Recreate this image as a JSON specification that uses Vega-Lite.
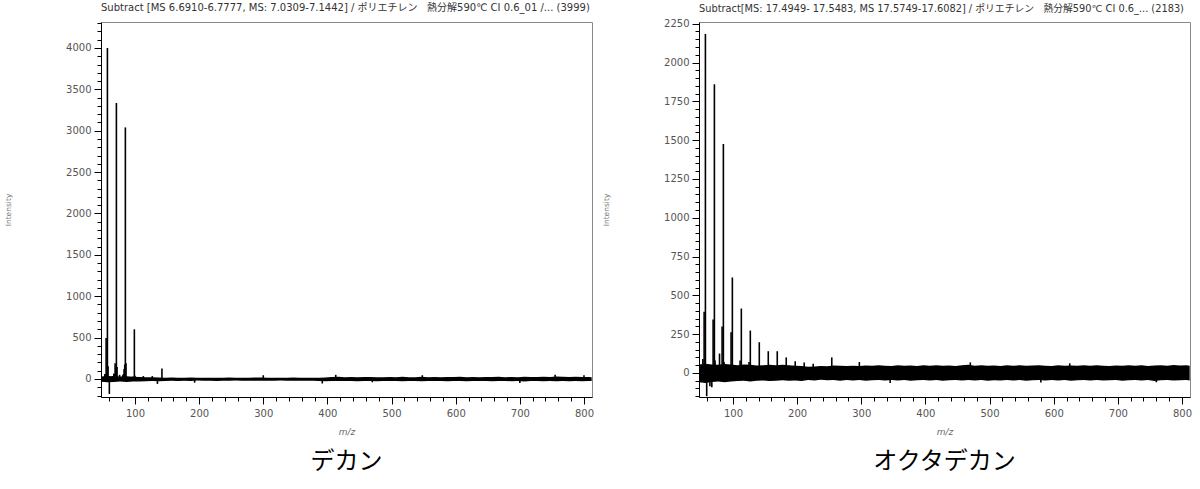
{
  "$schema": "https://vega.github.io/schema/vega-lite/v6.json",
  "background": "white",
  "padding": {"left": 4, "top": 2, "right": 0, "bottom": 0},
  "config": {
    "view": {"stroke": "#888"},
    "font": "DejaVu Sans",
    "axis": {
      "labelFont": "DejaVu Sans",
      "titleFont": "DejaVu Sans",
      "labelFontSize": 10,
      "labelColor": "#555",
      "titleColor": "#666",
      "titleFontWeight": "normal",
      "domainColor": "black",
      "tickColor": "black",
      "grid": false,
      "labelOverlap": false,
      "labelFlush": false,
      "tickCount": 200
    }
  },
  "datasets": {
    "decane_noise": [
      {"mz":47,"lo":-35,"hi":30},{"mz":57,"lo":-40,"hi":35},{"mz":67,"lo":-36,"hi":32},{"mz":77,"lo":-32,"hi":30},{"mz":87,"lo":-36,"hi":33},{"mz":97,"lo":-32,"hi":28},{"mz":107,"lo":-30,"hi":25},{"mz":117,"lo":-28,"hi":22},{"mz":127,"lo":-25,"hi":20},{"mz":137,"lo":-28,"hi":18},{"mz":147,"lo":-24,"hi":16},{"mz":157,"lo":-22,"hi":18},{"mz":167,"lo":-24,"hi":15},{"mz":177,"lo":-22,"hi":16},{"mz":187,"lo":-24,"hi":18},{"mz":197,"lo":-20,"hi":15},{"mz":207,"lo":-22,"hi":16},{"mz":217,"lo":-21,"hi":15},{"mz":227,"lo":-24,"hi":16},{"mz":237,"lo":-22,"hi":14},{"mz":247,"lo":-22,"hi":18},{"mz":257,"lo":-20,"hi":15},{"mz":267,"lo":-22,"hi":16},{"mz":277,"lo":-21,"hi":15},{"mz":287,"lo":-23,"hi":17},{"mz":297,"lo":-22,"hi":19},{"mz":307,"lo":-21,"hi":15},{"mz":317,"lo":-22,"hi":16},{"mz":327,"lo":-20,"hi":14},{"mz":337,"lo":-22,"hi":15},{"mz":347,"lo":-22,"hi":17},{"mz":357,"lo":-21,"hi":15},{"mz":367,"lo":-23,"hi":16},{"mz":377,"lo":-22,"hi":15},{"mz":387,"lo":-26,"hi":16},{"mz":397,"lo":-28,"hi":19},{"mz":407,"lo":-26,"hi":24},{"mz":417,"lo":-24,"hi":28},{"mz":427,"lo":-26,"hi":22},{"mz":437,"lo":-25,"hi":24},{"mz":447,"lo":-27,"hi":22},{"mz":457,"lo":-24,"hi":23},{"mz":467,"lo":-26,"hi":25},{"mz":477,"lo":-28,"hi":22},{"mz":487,"lo":-24,"hi":21},{"mz":497,"lo":-26,"hi":24},{"mz":507,"lo":-25,"hi":22},{"mz":517,"lo":-27,"hi":26},{"mz":527,"lo":-24,"hi":22},{"mz":537,"lo":-26,"hi":21},{"mz":547,"lo":-28,"hi":26},{"mz":557,"lo":-25,"hi":22},{"mz":567,"lo":-26,"hi":24},{"mz":577,"lo":-24,"hi":22},{"mz":587,"lo":-29,"hi":25},{"mz":597,"lo":-26,"hi":23},{"mz":607,"lo":-24,"hi":26},{"mz":617,"lo":-27,"hi":22},{"mz":627,"lo":-25,"hi":24},{"mz":637,"lo":-26,"hi":21},{"mz":647,"lo":-24,"hi":25},{"mz":657,"lo":-28,"hi":23},{"mz":667,"lo":-26,"hi":26},{"mz":677,"lo":-24,"hi":22},{"mz":687,"lo":-27,"hi":24},{"mz":697,"lo":-25,"hi":22},{"mz":707,"lo":-30,"hi":26},{"mz":717,"lo":-26,"hi":24},{"mz":727,"lo":-24,"hi":23},{"mz":737,"lo":-29,"hi":28},{"mz":747,"lo":-26,"hi":24},{"mz":757,"lo":-28,"hi":29},{"mz":767,"lo":-25,"hi":26},{"mz":777,"lo":-27,"hi":23},{"mz":787,"lo":-26,"hi":28},{"mz":797,"lo":-29,"hi":25},{"mz":807,"lo":-26,"hi":24},{"mz":812,"lo":-24,"hi":22}
    ],
    "decane_peaks": [
      {"mz":51,"intensity":25},{"mz":53,"intensity":60},{"mz":54,"intensity":45},{"mz":55,"intensity":495},{"mz":56,"intensity":110},{"mz":57,"intensity":3999},{"mz":58,"intensity":155},{"mz":60,"intensity":-182},{"mz":65,"intensity":35},{"mz":67,"intensity":65},{"mz":68,"intensity":55},{"mz":69,"intensity":190},{"mz":70,"intensity":140},{"mz":71,"intensity":3335},{"mz":72,"intensity":145},{"mz":76,"intensity":50},{"mz":81,"intensity":45},{"mz":82,"intensity":60},{"mz":83,"intensity":120},{"mz":84,"intensity":175},{"mz":85,"intensity":3040},{"mz":86,"intensity":190},{"mz":97,"intensity":30},{"mz":99,"intensity":600},{"mz":100,"intensity":40},{"mz":113,"intensity":35},{"mz":127,"intensity":35},{"mz":135,"intensity":-60},{"mz":142,"intensity":125},{"mz":193,"intensity":-45},{"mz":300,"intensity":45},{"mz":392,"intensity":-55},{"mz":413,"intensity":50},{"mz":470,"intensity":-40},{"mz":548,"intensity":45},{"mz":700,"intensity":-48},{"mz":755,"intensity":50},{"mz":800,"intensity":45}
    ],
    "octa_noise": [
      {"mz":47,"lo":-60,"hi":55},{"mz":57,"lo":-65,"hi":60},{"mz":67,"lo":-58,"hi":55},{"mz":77,"lo":-55,"hi":52},{"mz":87,"lo":-60,"hi":58},{"mz":97,"lo":-55,"hi":55},{"mz":107,"lo":-52,"hi":50},{"mz":117,"lo":-50,"hi":55},{"mz":127,"lo":-55,"hi":52},{"mz":137,"lo":-50,"hi":48},{"mz":147,"lo":-48,"hi":50},{"mz":157,"lo":-52,"hi":53},{"mz":167,"lo":-50,"hi":49},{"mz":177,"lo":-47,"hi":52},{"mz":187,"lo":-50,"hi":50},{"mz":197,"lo":-48,"hi":47},{"mz":207,"lo":-52,"hi":45},{"mz":217,"lo":-45,"hi":40},{"mz":227,"lo":-48,"hi":42},{"mz":237,"lo":-44,"hi":45},{"mz":247,"lo":-47,"hi":43},{"mz":257,"lo":-45,"hi":48},{"mz":267,"lo":-50,"hi":46},{"mz":277,"lo":-46,"hi":44},{"mz":287,"lo":-48,"hi":47},{"mz":297,"lo":-45,"hi":45},{"mz":307,"lo":-50,"hi":48},{"mz":317,"lo":-47,"hi":46},{"mz":327,"lo":-45,"hi":50},{"mz":337,"lo":-49,"hi":47},{"mz":347,"lo":-46,"hi":45},{"mz":357,"lo":-48,"hi":49},{"mz":367,"lo":-45,"hi":46},{"mz":377,"lo":-50,"hi":48},{"mz":387,"lo":-47,"hi":45},{"mz":397,"lo":-45,"hi":50},{"mz":407,"lo":-48,"hi":47},{"mz":417,"lo":-46,"hi":49},{"mz":427,"lo":-50,"hi":46},{"mz":437,"lo":-47,"hi":48},{"mz":447,"lo":-45,"hi":45},{"mz":457,"lo":-49,"hi":50},{"mz":467,"lo":-46,"hi":52},{"mz":477,"lo":-48,"hi":47},{"mz":487,"lo":-45,"hi":49},{"mz":497,"lo":-50,"hi":46},{"mz":507,"lo":-47,"hi":48},{"mz":517,"lo":-49,"hi":45},{"mz":527,"lo":-45,"hi":50},{"mz":537,"lo":-48,"hi":47},{"mz":547,"lo":-46,"hi":49},{"mz":557,"lo":-50,"hi":46},{"mz":567,"lo":-47,"hi":48},{"mz":577,"lo":-45,"hi":50},{"mz":587,"lo":-49,"hi":47},{"mz":597,"lo":-46,"hi":45},{"mz":607,"lo":-48,"hi":49},{"mz":617,"lo":-45,"hi":46},{"mz":627,"lo":-50,"hi":48},{"mz":637,"lo":-47,"hi":47},{"mz":647,"lo":-45,"hi":49},{"mz":657,"lo":-48,"hi":46},{"mz":667,"lo":-46,"hi":50},{"mz":677,"lo":-49,"hi":47},{"mz":687,"lo":-47,"hi":45},{"mz":697,"lo":-45,"hi":48},{"mz":707,"lo":-50,"hi":46},{"mz":717,"lo":-47,"hi":49},{"mz":727,"lo":-45,"hi":47},{"mz":737,"lo":-48,"hi":50},{"mz":747,"lo":-46,"hi":45},{"mz":757,"lo":-52,"hi":48},{"mz":767,"lo":-47,"hi":50},{"mz":777,"lo":-45,"hi":47},{"mz":787,"lo":-49,"hi":51},{"mz":797,"lo":-47,"hi":48},{"mz":807,"lo":-45,"hi":50},{"mz":812,"lo":-48,"hi":46}
    ],
    "octa_peaks": [
      {"mz":53,"intensity":90},{"mz":55,"intensity":395},{"mz":57,"intensity":2183},{"mz":59,"intensity":-150},{"mz":64,"intensity":-85},{"mz":67,"intensity":-92},{"mz":69,"intensity":345},{"mz":71,"intensity":1860},{"mz":72,"intensity":80},{"mz":79,"intensity":125},{"mz":83,"intensity":300},{"mz":85,"intensity":1475},{"mz":86,"intensity":70},{"mz":97,"intensity":262},{"mz":99,"intensity":615},{"mz":111,"intensity":80},{"mz":113,"intensity":415},{"mz":125,"intensity":70},{"mz":127,"intensity":273},{"mz":141,"intensity":198},{"mz":155,"intensity":140},{"mz":169,"intensity":140},{"mz":183,"intensity":100},{"mz":197,"intensity":75},{"mz":211,"intensity":68},{"mz":225,"intensity":60},{"mz":254,"intensity":100},{"mz":297,"intensity":70},{"mz":345,"intensity":-65},{"mz":470,"intensity":68},{"mz":580,"intensity":-62},{"mz":625,"intensity":62},{"mz":760,"intensity":-60}
    ]
  },
  "spacing": 7,
  "hconcat": [
    {
      "spacing": 10,
      "vconcat": [
        {
          "width": 491,
          "height": 375,
          "title": {"text": "Subtract [MS 6.6910-6.7777, MS: 7.0309-7.1442] / ポリエチレン\u00a0\u00a0 熱分解590℃ CI 0.6_01 /... (3999)", "anchor": "start", "frame": "group", "fontSize": 10, "font": "DejaVu Sans, Noto Sans CJK JP", "fontWeight": "normal", "color": "#333", "offset": 5},
          "layer": [
            {
              "data": {"name": "decane_noise"},
              "mark": {"type": "area", "color": "black", "clip": true},
              "encoding": {
                "x": {"field": "mz", "type": "quantitative",
                  "scale": {"domain": [47, 812.5], "nice": false, "zero": false},
                  "axis": {"title": "m/z", "titleFontStyle": "italic", "titleFontSize": 9, "titlePadding": 9,
                    "values": [60,80,100,120,140,160,180,200,220,240,260,280,300,320,340,360,380,400,420,440,460,480,500,520,540,560,580,600,620,640,660,680,700,720,740,760,780,800],
                    "format": "d",
                    "tickCount": 200,
                    "labelOverlap": false,
                    "labelExpr": "datum.value % 100 === 0 ? datum.label : ''",
                    "tickSize": {"condition": {"test": "datum.value % 100 === 0", "value": 7}, "value": 4},
                    "labelPadding": 4}},
                "y": {"field": "lo", "type": "quantitative",
                  "scale": {"domain": [-218, 4314], "nice": false, "zero": false},
                  "axis": {"title": "Intensity", "titleFontSize": 7.5, "titleColor": "#777", "titlePadding": 53,
                    "values": [-200,-100,0,100,200,300,400,500,600,700,800,900,1000,1100,1200,1300,1400,1500,1600,1700,1800,1900,2000,2100,2200,2300,2400,2500,2600,2700,2800,2900,3000,3100,3200,3300,3400,3500,3600,3700,3800,3900,4000,4100,4200,4300],
                    "format": "d",
                    "tickCount": 200,
                    "labelOverlap": false,
                    "labelExpr": "datum.value % 500 === 0 && datum.value >= 0 ? datum.label : ''",
                    "tickSize": {"condition": {"test": "datum.value % 500 === 0", "value": 7}, "value": 4},
                    "labelPadding": 3}},
                "y2": {"field": "hi"}
              }
            },
            {
              "data": {"name": "decane_peaks"},
              "mark": {"type": "rule", "color": "black", "strokeWidth": 1.6, "clip": true},
              "encoding": {
                "x": {"field": "mz", "type": "quantitative"},
                "y": {"field": "intensity", "type": "quantitative"},
                "y2": {"datum": 0}
              }
            }
          ]
        },
        {
          "width": 491,
          "height": 30,
          "view": {"stroke": null},
          "data": {"values": [{"label": "デカン"}]},
          "mark": {"type": "text", "font": "Noto Sans CJK JP", "fontSize": 24, "color": "black", "baseline": "middle", "align": "center"},
          "encoding": {"text": {"field": "label"}}
        }
      ]
    },
    {
      "spacing": 10,
      "vconcat": [
        {
          "width": 491,
          "height": 375,
          "title": {"text": "Subtract[MS: 17.4949- 17.5483, MS 17.5749-17.6082] / ポリエチレン\u00a0\u00a0 熱分解590℃ CI 0.6_... (2183)", "anchor": "start", "frame": "group", "fontSize": 9.8, "font": "DejaVu Sans, Noto Sans CJK JP", "fontWeight": "normal", "color": "#333", "offset": 5},
          "layer": [
            {
              "data": {"name": "octa_noise"},
              "mark": {"type": "area", "color": "black", "clip": true},
              "encoding": {
                "x": {"field": "mz", "type": "quantitative",
                  "scale": {"domain": [47, 812.5], "nice": false, "zero": false},
                  "axis": {"title": "m/z", "titleFontStyle": "italic", "titleFontSize": 9, "titlePadding": 9,
                    "values": [60,80,100,120,140,160,180,200,220,240,260,280,300,320,340,360,380,400,420,440,460,480,500,520,540,560,580,600,620,640,660,680,700,720,740,760,780,800],
                    "format": "d",
                    "tickCount": 200,
                    "labelOverlap": false,
                    "labelExpr": "datum.value % 100 === 0 ? datum.label : ''",
                    "tickSize": {"condition": {"test": "datum.value % 100 === 0", "value": 7}, "value": 4},
                    "labelPadding": 4}},
                "y": {"field": "lo", "type": "quantitative",
                  "scale": {"domain": [-155, 2261], "nice": false, "zero": false},
                  "axis": {"title": "Intensity", "titleFontSize": 7.5, "titleColor": "#777", "titlePadding": 53,
                    "values": [-150,-100,-50,0,50,100,150,200,250,300,350,400,450,500,550,600,650,700,750,800,850,900,950,1000,1050,1100,1150,1200,1250,1300,1350,1400,1450,1500,1550,1600,1650,1700,1750,1800,1850,1900,1950,2000,2050,2100,2150,2200,2250],
                    "format": "d",
                    "tickCount": 200,
                    "labelOverlap": false,
                    "labelExpr": "datum.value % 250 === 0 && datum.value >= 0 ? datum.label : ''",
                    "tickSize": {"condition": {"test": "datum.value % 250 === 0", "value": 7}, "value": 4},
                    "labelPadding": 3}},
                "y2": {"field": "hi"}
              }
            },
            {
              "data": {"name": "octa_peaks"},
              "mark": {"type": "rule", "color": "black", "strokeWidth": 1.6, "clip": true},
              "encoding": {
                "x": {"field": "mz", "type": "quantitative"},
                "y": {"field": "intensity", "type": "quantitative"},
                "y2": {"datum": 0}
              }
            }
          ]
        },
        {
          "width": 491,
          "height": 30,
          "view": {"stroke": null},
          "data": {"values": [{"label": "オクタデカン"}]},
          "mark": {"type": "text", "font": "Noto Sans CJK JP", "fontSize": 24, "color": "black", "baseline": "middle", "align": "center"},
          "encoding": {"text": {"field": "label"}}
        }
      ]
    }
  ]
}
